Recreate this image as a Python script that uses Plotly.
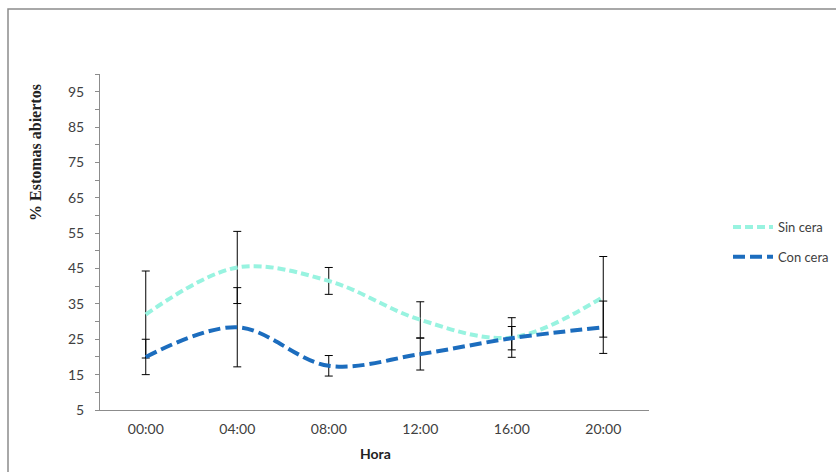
import plotly.graph_objects as go

# Hours of measurement and percentage of open stomata (mean ± error)
horas = ["00:00", "04:00", "08:00", "12:00", "16:00", "20:00"]
sin_cera = [32, 45.3, 41.5, 30.5, 25.5, 37]
sin_cera_err = [12.3, 10.2, 3.8, 5.1, 5.6, 11.4]
con_cera = [20, 28.4, 17.5, 20.8, 25.3, 28.4]
con_cera_err = [5, 11.2, 2.9, 4.5, 3.3, 7.4]
y_ticks = [5, 15, 25, 35, 45, 55, 65, 75, 85, 95]

W, H = 836, 472
ML, MR, MT, MB = 100, 187, 74, 62
PW, PH = W - ML - MR, H - MT - MB


def px_x(x):
    return (x - ML) / PW


def px_y(y):
    return 1 - (y - MT) / PH


err_style = dict(type="data", color="black", thickness=1, width=4, visible=True)

fig = go.Figure()
fig.add_trace(go.Scatter(
    x=horas, y=sin_cera, name="Sin cera", mode="lines",
    line=dict(color="#98F3E0", width=4, dash="8px,4px", shape="spline", smoothing=1),
    error_y=dict(array=sin_cera_err, **err_style),
    legendgroup="a",
))
fig.add_trace(go.Scatter(
    x=horas, y=con_cera, name="Con cera", mode="lines",
    line=dict(color="#1C6DBE", width=4, dash="12px,5px", shape="spline", smoothing=1),
    error_y=dict(array=con_cera_err, **err_style),
    legendgroup="b",
))

fig.update_layout(
    width=W, height=H,
    margin=dict(l=ML, r=MR, t=MT, b=MB),
    paper_bgcolor="white", plot_bgcolor="white",
    font=dict(family="Lato", size=13, color="#404040"),
    showlegend=True,
    legend=dict(
        xref="container", yref="container",
        x=728 / W, y=1 - 242 / H, xanchor="left", yanchor="middle",
        itemwidth=40,
        tracegroupgap=10, font=dict(family="Lato", size=13, color="#404040"),
        bgcolor="rgba(0,0,0,0)",
    ),
    xaxis=dict(
        type="category", range=[-0.5, 5.5],
        showline=True, linecolor="#8C8C8C", linewidth=1,
        showgrid=False, zeroline=False, ticks="",
        tickfont=dict(family="Lato", size=14, color="#404040"),
        ticklabelstandoff=6,
    ),
    yaxis=dict(
        range=[5, 100], tickvals=y_ticks,
        showline=True, linecolor="#8C8C8C", linewidth=1,
        showgrid=False, zeroline=False,
        ticks="outside", ticklen=4, tickcolor="#8C8C8C",
        minor=dict(dtick=10, tick0=10, ticks="outside", ticklen=4, tickcolor="#8C8C8C"),
        tickfont=dict(family="Lato", size=14, color="#404040"),
        ticklabelstandoff=8,
    ),
    shapes=[dict(
        type="rect", xref="paper", yref="paper",
        x0=px_x(8), x1=px_x(845), y0=px_y(480), y1=px_y(9),
        line=dict(color="#8C8C8C", width=1.5), fillcolor="rgba(0,0,0,0)", layer="below",
    )],
    annotations=[
        dict(text="<b>Hora</b>", xref="paper", yref="paper",
             x=px_x(375), y=px_y(453), xanchor="center", yanchor="middle",
             showarrow=False,
             font=dict(family="Lato", size=14, color="#222222")),
        dict(text="<b>% Estomas abiertos</b>", xref="paper", yref="paper",
             x=px_x(35), y=px_y(153), xanchor="center", yanchor="middle",
             showarrow=False, textangle=-90,
             font=dict(family="Liberation Serif", size=16, color="#222222")),
    ],
)

fig.write_html("out.html")
